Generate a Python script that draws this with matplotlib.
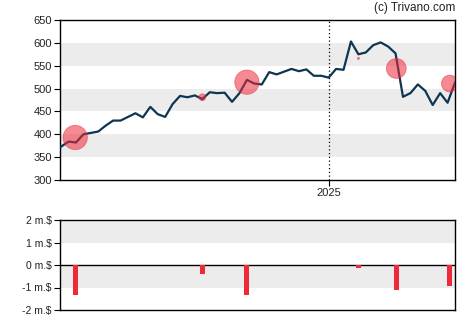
import matplotlib
matplotlib.use("Agg")
import matplotlib.pyplot as plt
import numpy as np
import pandas as pd

# weekly closing prices
dates = pd.date_range("2024-04-24", periods=54, freq="7D")
prices = [373, 384, 382, 400, 403, 406, 419, 430, 430, 438,
          446, 437, 460, 444, 438, 466, 484, 481, 485, 477,
          492, 490, 491, 471, 490, 519, 511, 509, 536, 531,
          537, 543, 538, 542, 528, 528, 524, 543, 541, 603,
          575, 579, 595, 601, 592, 577, 482, 490, 509, 495,
          464, 490, 469, 513]

# insider trades (week position, price, value in million $)
trade_pos = [1.9, 19.0, 25.0, 40.0, 45.1, 52.3]
trade_price = [393, 481, 514, 566, 544, 511]
trade_value = [-1.35, -0.38, -1.35, -0.12, -1.1, -0.93]

price_ticks = [300, 350, 400, 450, 500, 550, 600, 650]
value_ticks = [-2, -1, 0, 1, 2]

LINE = "#0e3552"
RED = "#ee2a3a"
BAND = "#ececec"
TXT = "#222222"

plt.rcParams["font.family"] = ["Liberation Sans", "DejaVu Sans"]

fig = plt.figure(figsize=(4.7, 3.25), dpi=100)
ax = fig.add_axes([60 / 470, 1 - 180 / 325, 395 / 470, 160 / 325])
ax2 = fig.add_axes([60 / 470, 1 - 310 / 325, 395 / 470, 90 / 325])

x = np.arange(len(prices))
xlim = (-0.15, len(prices) - 1)
jan = (pd.Timestamp("2025-01-01") - dates[0]).days / 7

# top panel
for lo in (350, 450, 550):
    ax.axhspan(lo, lo + 50, color=BAND, lw=0, zorder=0)
ax.plot(x, prices, color=LINE, lw=1.6, zorder=3)
radius_px = [9 * abs(v) for v in trade_value]
sizes = [(2 * r * 0.72) ** 2 for r in radius_px]
ax.scatter(trade_pos, trade_price, s=sizes, color=RED, alpha=0.55,
           edgecolors=RED, linewidths=0.6, zorder=4)
ax.axvline(jan, color="black", ls=(0, (1, 2)), lw=0.9, zorder=2)
ax.set_xlim(*xlim)
ax.set_ylim(300, 650)
ax.set_yticks(price_ticks)
ax.set_xticks([jan])
ax.set_xticklabels(["2025"])
ax.tick_params(labelsize=8, colors="black", labelcolor=TXT, length=4, width=0.8, pad=2)

# bottom panel
for lo in (1, -1):
    ax2.axhspan(lo, lo + 1, color=BAND, lw=0, zorder=0)
ax2.axhline(0, color="black", lw=1, zorder=2)
ax2.bar(trade_pos, trade_value, width=0.65, color=RED, zorder=3)
ax2.set_xlim(*xlim)
ax2.set_ylim(-2, 2)
ax2.set_yticks(value_ticks)
ax2.set_yticklabels([f"{v} m.$" for v in value_ticks])
ax2.set_xticks([])
ax2.tick_params(labelsize=7.5, colors="black", labelcolor=TXT, length=4, width=0.8, pad=2)

for a in (ax, ax2):
    for s in a.spines.values():
        s.set_linewidth(1)
        s.set_color("black")

fig.text(455 / 470, 1 - 8 / 325, "(c) Trivano.com", ha="right", va="center",
         fontsize=8.5, color=TXT)

fig.savefig("out.png", dpi=100)
